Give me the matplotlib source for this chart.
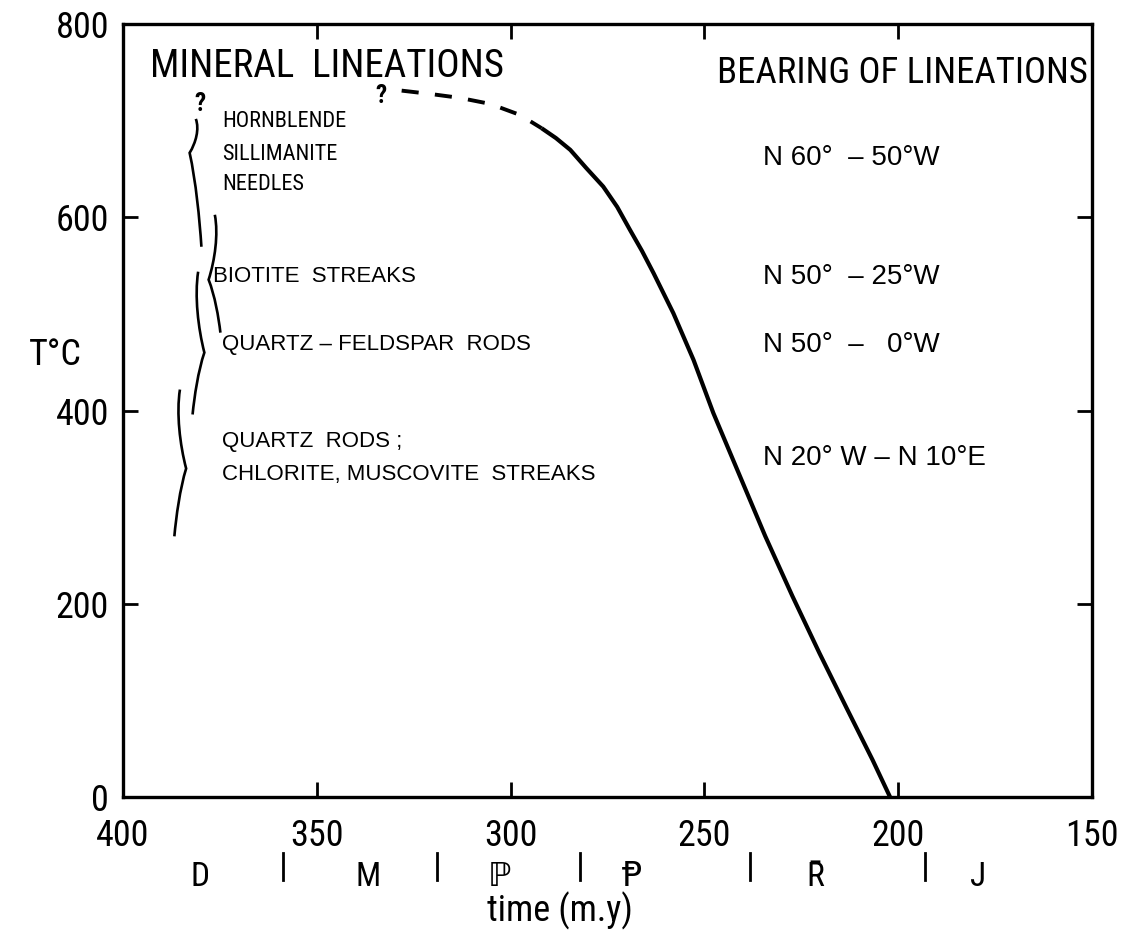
import matplotlib
matplotlib.use("Agg")
import matplotlib.pyplot as plt
from matplotlib import font_manager
from matplotlib.path import Path
from matplotlib.patches import PathPatch

# ---------------- data ----------------
x_ticks = [400, 350, 300, 250, 200, 150]
y_ticks = [0, 200, 400, 600, 800]

# cooling curve (time m.y., T °C)
dash_time = [328.1, 320.8, 313.1, 305.3, 297.6, 292.0]
dash_temp = [731.1, 727.7, 723.6, 717.4, 706.0, 692.2]
solid_time = [292.0, 288.3, 284.6, 280.5, 276.1, 272.5, 269.2, 266.1, 263.1, 258.0,
              252.8, 247.7, 241.5, 234.3, 227.3, 220.3, 213.3, 206.6, 202.1]
solid_temp = [692.2, 682.0, 669.8, 651.1, 631.8, 610.8, 587.0, 565.2, 542.1, 500.7,
              452.4, 397.5, 338.5, 270.0, 208.0, 148.8, 92.0, 38.3, 0.0]

# mineral lineation labels (upper group, lettered smaller)
upper_labels = ["HORNBLENDE", "SILLIMANITE", "NEEDLES"]
upper_time = [374.5, 374.5, 374.5]
upper_temp = [698.8, 664.6, 633.5]

# mineral lineation labels (lower group)
lower_labels = ["BIOTITE  STREAKS", "QUARTZ – FELDSPAR  RODS", "QUARTZ  RODS ;",
                "CHLORITE, MUSCOVITE  STREAKS"]
lower_time = [376.8, 374.5, 374.5, 374.5]
lower_temp = [538.3, 467.9, 367.5, 333.3]

# bearing labels
bearing_labels = ["N 60°  – 50°W", "N 50°  – 25°W", "N 50°  –   0°W", "N 20° W – N 10°E"]
bearing_time = [234.8, 234.8, 234.8, 234.8]
bearing_temp = [661.5, 538.3, 467.9, 350.9]

# temperature-range braces: time, top, cusp, bottom, cusp direction
brace_time = [381.2, 376.3, 380.6, 385.3]
brace_top = [701.8, 602.6, 543.7, 421.7]
brace_cusp = [666.7, 535.4, 460.0, 340.0]
brace_bot = [569.5, 480.6, 395.9, 269.8]
brace_dir = [1, 1, -1, -1]

# geologic periods
period_labels = ["D", "M", "\u2119", "\u2C63", "R\u0304", "J"]
period_time = [380.1, 336.8, 303.0, 268.7, 221.5, 179.4]
boundary_time = [358.7, 319.0, 282.1, 238.2, 193.1]

# ---------------- fonts ----------------
names = {f.name for f in font_manager.fontManager.ttflist}
prefs = ["Roboto Condensed", "Liberation Sans Narrow", "PT Sans Narrow", "Liberation Sans"]
main_font = next((p for p in prefs if p in names), "DejaVu Sans")
FAM = [main_font, "DejaVu Sans"]
WIDE = ["Liberation Sans", "DejaVu Sans"]
plt.rcParams["font.family"] = FAM

fig = plt.figure(figsize=(11.26, 9.36), dpi=100)
ax = fig.add_axes([0.1092, 0.1485, 0.8606, 0.8258])
ax.set_xlim(400, 150)
ax.set_ylim(0, 800)

for s in ax.spines.values():
    s.set_linewidth(2.4)
ax.set_xticks(x_ticks)
ax.set_yticks(y_ticks)
ax.tick_params(direction="in", length=11, width=2, top=True, right=True,
               labelsize=26, pad=10)
ax.tick_params(axis="x", pad=15)

# curve
ax.plot(dash_time, dash_temp, color="black", lw=2.8, dashes=(4.4, 4.2),
        solid_capstyle="butt", dash_capstyle="butt", solid_joinstyle="round")
ax.plot(solid_time, solid_temp, color="black", lw=3.0, solid_capstyle="butt",
        solid_joinstyle="round")

# braces drawn as paths
def brace(x, top, cusp, bot, d, w=1.6):
    verts = [(x, top),
             (x - d * w * 0.6, top - (top - cusp) * 0.3), (x, cusp + (top - cusp) * 0.3),
             (x + d * w, cusp),
             (x, cusp - (cusp - bot) * 0.3), (x - d * w * 0.6, bot + (cusp - bot) * 0.3),
             (x - d * w * 0.9, bot)]
    codes = [Path.MOVETO, Path.CURVE4, Path.CURVE4, Path.CURVE4,
             Path.CURVE4, Path.CURVE4, Path.CURVE4]
    ax.add_patch(PathPatch(Path(verts, codes), fill=False, lw=1.9, color="black"))

for bx, bt, bc, bb, bd in zip(brace_time, brace_top, brace_cusp, brace_bot, brace_dir):
    brace(bx, bt, bc, bb, bd)

ax.text(380.1, 717, "?", fontsize=18, ha="center", va="center", fontweight="bold")
ax.text(333.3, 726, "?", fontsize=18, ha="center", va="center", fontweight="bold")

# headers
ax.text(393.0, 745.3, "MINERAL  LINEATIONS", fontsize=28, ha="left", va="baseline")
ax.text(151.0, 739.0, "BEARING OF LINEATIONS", fontsize=26.5, ha="right", va="baseline")

for t, x, y in zip(upper_labels, upper_time, upper_temp):
    ax.text(x, y, t, fontsize=16, ha="left", va="center")
for t, x, y in zip(lower_labels, lower_time, lower_temp):
    ax.text(x, y, t, fontsize=16, ha="left", va="center", family=WIDE)
for t, x, y in zip(bearing_labels, bearing_time, bearing_temp):
    ax.text(x, y, t, fontsize=20, ha="left", va="center", family=WIDE)

# period row
trans = ax.get_xaxis_transform()
for t, x in zip(period_labels, period_time):
    ax.text(x, -0.1035, t, fontsize=24, ha="center", va="center", transform=trans,
            clip_on=False)
for x in boundary_time:
    ax.plot([x, x], [-0.072, -0.108], color="black", lw=2, transform=trans,
            clip_on=False)

ax.text(287.3, -0.147, "time (m.y)", fontsize=26, ha="center", va="center",
        transform=trans, clip_on=False)
fig.text(0.049, 0.621, "T°C", fontsize=26, ha="center", va="center")

fig.savefig("out.png", dpi=100)
